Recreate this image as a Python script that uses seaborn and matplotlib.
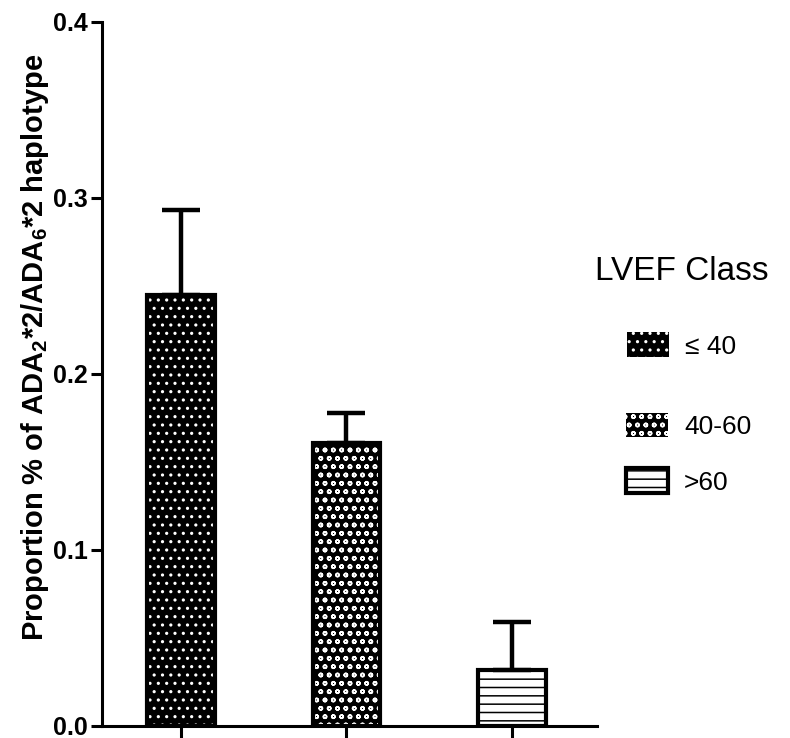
import matplotlib
matplotlib.use('Agg')
import matplotlib.pyplot as plt
import seaborn as sns
from matplotlib.patches import Patch

# values
classes = ['≤ 40', '40-60', '>60']
proportions = [0.245, 0.161, 0.032]
upper_err = [0.048, 0.017, 0.027]
yticks = [0.0, 0.1, 0.2, 0.3, 0.4]

hatches = ['..', 'oo', '--']
faces = ['black', 'black', 'white']
hatch_colors = ['white', 'white', 'black']

sns.set_style('ticks')
plt.rcParams['font.family'] = ['Liberation Sans', 'DejaVu Sans']
plt.rcParams['mathtext.fontset'] = 'custom'
plt.rcParams['mathtext.rm'] = 'Liberation Sans'
plt.rcParams['mathtext.bf'] = 'Liberation Sans:bold'
plt.rcParams['hatch.linewidth'] = 1.1
for key in ['text.color', 'axes.labelcolor', 'xtick.color', 'ytick.color',
            'axes.edgecolor']:
    plt.rcParams[key] = 'black'

fig = plt.figure(figsize=(7.9, 7.38), dpi=100)
ax = fig.add_axes([0.1291, 0.0163, 0.6266, 0.9539])

# hatched fills
sns.barplot(x=classes, y=proportions, order=classes, color='black',
            width=0.41, errorbar=None, linewidth=0, ax=ax)
for bar, h, fc, hc in zip(ax.patches, hatches, faces, hatch_colors):
    bar.set_facecolor(fc)
    bar.set_edgecolor(hc)
    bar.set_hatch(h)

# thick black outlines on top
sns.barplot(x=classes, y=proportions, order=classes, color='black',
            width=0.41, errorbar=None, fill=False, linewidth=3, ax=ax)

# upper-only error bars
ax.errorbar(x=list(range(len(classes))), y=proportions,
            yerr=[[0] * len(classes), upper_err], fmt='none',
            ecolor='black', elinewidth=3.2, capsize=14, capthick=3.2,
            zorder=1)

ax.set_xlim(-0.477, 2.514)
ax.set_ylim(0, 0.4)
ax.set_xticks(range(len(classes)))
ax.set_xticklabels([])
ax.set_xlabel('')
ax.set_yticks(yticks)
ax.set_yticklabels([f'{t:.1f}' for t in yticks], fontsize=18,
                   fontweight='bold')
ax.tick_params(axis='x', length=12, width=2.2, direction='out')
ax.tick_params(axis='y', length=8, width=2.2, direction='out', pad=2)
sns.despine(ax=ax)
for side in ['left', 'bottom']:
    ax.spines[side].set_linewidth(2.2)

ax.set_ylabel(r'Proportion % of ADA$_\mathbf{2}$*2/ADA$_\mathbf{6}$*2 haplotype',
              fontsize=21, fontweight='bold')
ax.yaxis.set_label_coords(-0.103, 0.538)

handles = []
for h, fc, hc in zip(hatches, faces, hatch_colors):
    if fc == 'white':
        handles.append(Patch(facecolor=fc, edgecolor=hc, hatch=h,
                             linewidth=3))
    else:
        handles.append(Patch(facecolor=fc, edgecolor=hc, hatch=h,
                             linewidth=0))

leg_opts = dict(loc='upper left', frameon=False, fontsize=19,
                handlelength=1.6, handleheight=1.05, handletextpad=0.6,
                borderpad=0, borderaxespad=0)
fig.legend(handles[:1], classes[:1], title='LVEF Class', title_fontsize=24,
           bbox_to_anchor=(595 / 790, 1 - 256 / 738), labelspacing=1.72,
           **leg_opts)
fig.legend(handles[1:], classes[1:],
           bbox_to_anchor=(626 / 790, 1 - 413 / 738), labelspacing=1.1,
           **leg_opts)

fig.savefig('out.png', dpi=100)
